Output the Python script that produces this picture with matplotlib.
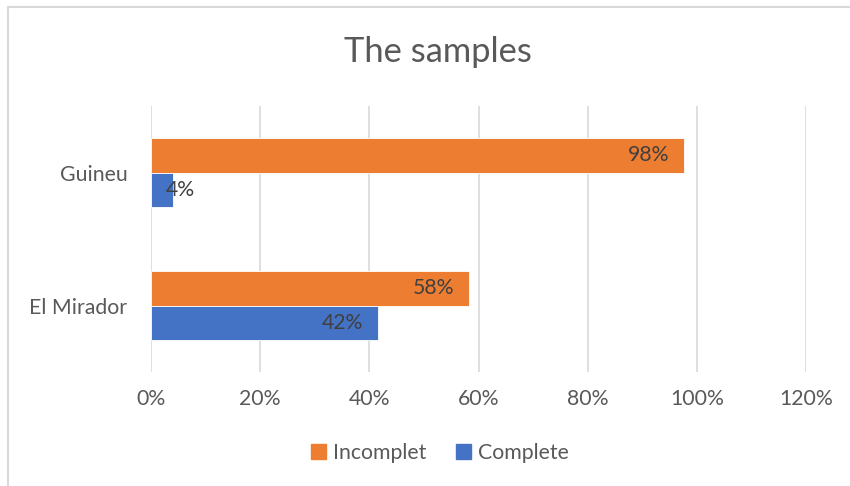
import matplotlib
matplotlib.use('Agg')
import matplotlib.pyplot as plt
from matplotlib.lines import Line2D
from matplotlib.patches import Patch
import numpy as np

plt.rcParams['font.family'] = ['Lato', 'DejaVu Sans']

categories = ['El Mirador', 'Guineu']
incomplet = [0.583, 0.977]
complete = [0.416, 0.040]
incomplet_labels = ['58%', '98%']
complete_labels = ['42%', '4%']
xticks = [0, 0.2, 0.4, 0.6, 0.8, 1.0, 1.2]
xtick_labels = ['0%', '20%', '40%', '60%', '80%', '100%', '120%']

orange = '#ED7D31'
blue = '#4472C4'
text_gray = '#595959'
label_dark = '#404040'

fig = plt.figure(figsize=(8.5, 4.86), dpi=100)
ax = fig.add_axes([151 / 850, 1 - 372 / 486, 655 / 850, 266 / 486])

y = np.arange(len(categories))
h = 0.256
ax.barh(y + h / 2, incomplet, height=h, color=orange, edgecolor='white', linewidth=0.6, zorder=3)
ax.barh(y - h / 2, complete, height=h, color=blue, edgecolor='white', linewidth=0.6, zorder=3)

# data labels, inside end
pad = 0.028
fs = 15.3
for yi, v, lab in zip(y + h / 2, incomplet, incomplet_labels):
    ax.text(v - pad, yi, lab, ha='right', va='center', fontsize=fs, color=label_dark, zorder=4)
for yi, v, lab in zip(y - h / 2, complete, complete_labels):
    if v < 0.1:
        ax.text(v - 0.0125, yi, lab, ha='left', va='center', fontsize=fs, color=label_dark, zorder=4)
    else:
        ax.text(v - pad, yi, lab, ha='right', va='center', fontsize=fs, color=label_dark, zorder=4)

ax.set_xlim(0, 1.2)
ax.set_ylim(-0.5, 1.5)
ax.set_xticks(xticks)
ax.set_xticklabels(xtick_labels, fontsize=fs, color=text_gray)
ax.set_yticks(y)
ax.set_yticklabels(categories, fontsize=fs, color=text_gray)
ax.tick_params(axis='both', length=0)
ax.tick_params(axis='x', pad=12)
ax.tick_params(axis='y', pad=17)
ax.grid(axis='x', color='#D9D9D9', linewidth=1.2, zorder=0)
for s in ax.spines.values():
    s.set_visible(False)

fig.text(438 / 850, 1 - 52 / 486, 'The samples', ha='center', va='center', fontsize=24.8, color=text_gray)

handles = [Patch(color=orange, label='Incomplet'), Patch(color=blue, label='Complete')]
fig.legend(handles=handles, loc='center', bbox_to_anchor=(440 / 850, 1 - 453 / 486), ncol=2,
           frameon=False, fontsize=fs, labelcolor=text_gray, handlelength=0.7, handleheight=0.7,
           handletextpad=0.35, columnspacing=1.4)

# outer chart frame (only left and top edges visible)
fig.add_artist(Line2D([8 / 850, 8 / 850], [0, 1 - 7 / 486], transform=fig.transFigure, color='#D9D9D9', linewidth=1.5))
fig.add_artist(Line2D([8 / 850, 1], [1 - 7 / 486, 1 - 7 / 486], transform=fig.transFigure, color='#D9D9D9', linewidth=1.5))

fig.savefig('out.png', dpi=100)
